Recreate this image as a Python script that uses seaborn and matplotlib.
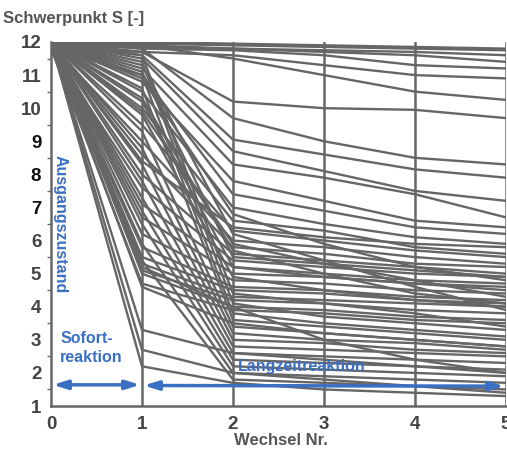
import numpy as np
import pandas as pd
import matplotlib
matplotlib.use("Agg")
import matplotlib.pyplot as plt
import seaborn as sns

wechsel = [0, 1, 2, 3, 4, 5]
x_ticks = [0, 1, 2, 3, 4, 5]
y_ticks = [1, 2, 3, 4, 5, 6, 7, 8, 9, 10, 11, 12]

high_group = [
    [12.0, 12.0, 11.95, 11.9, 11.85, 11.8],
    [12.0, 11.95, 11.9, 11.85, 11.8, 11.75],
    [12.0, 11.9, 11.8, 11.75, 11.7, 11.6],
    [11.9, 11.85, 11.8, 11.7, 11.6, 11.4],
    [12.0, 11.8, 11.75, 11.6, 11.3, 11.2],
    [11.8, 11.7, 11.6, 11.3, 11.0, 10.9],
    [12.0, 11.9, 11.5, 11.0, 10.5, 10.25],
    [12.0, 11.7, 10.2, 10.0, 9.95, 9.7],
    [12.0, 11.8, 9.7, 9.0, 8.5, 8.3],
    [11.9, 11.6, 9.05, 8.6, 8.15, 7.9],
    [12.0, 11.5, 8.7, 8.1, 7.5, 7.2],
    [12.0, 11.2, 8.3, 7.9, 7.4, 6.7],
    [12.0, 10.8, 7.8, 7.2, 6.6, 6.4],
    [11.8, 11.0, 7.4, 6.9, 6.4, 6.2],
    [12.0, 10.5, 7.0, 6.5, 6.1, 5.9],
]

mid_group = [
    [12.0, 10.0, 6.6, 6.3, 5.8, 5.6],
    [12.0, 9.5, 6.3, 6.0, 5.7, 5.5],
    [11.9, 9.0, 6.0, 5.8, 5.5, 5.3],
    [12.0, 8.6, 5.8, 5.6, 5.3, 5.2],
    [12.0, 8.0, 5.6, 5.4, 5.2, 5.0],
    [11.8, 7.6, 5.4, 5.2, 5.0, 4.9],
    [12.0, 7.1, 5.2, 5.0, 4.8, 4.7],
    [12.0, 6.7, 5.0, 4.9, 4.7, 4.5],
    [12.0, 6.2, 4.8, 4.7, 4.5, 4.4],
    [11.9, 5.8, 4.6, 4.5, 4.3, 4.2],
    [12.0, 5.5, 4.5, 4.4, 4.2, 4.1],
    [12.0, 5.3, 4.3, 4.2, 4.1, 4.0],
    [12.0, 5.1, 4.2, 4.1, 3.9, 3.8],
    [12.0, 5.0, 4.0, 3.9, 3.7, 3.6],
    [11.8, 4.7, 3.9, 3.8, 3.6, 3.5],
    [12.0, 10.9, 6.8, 5.9, 5.2, 4.8],
    [12.0, 9.9, 5.9, 5.3, 4.8, 4.3],
    [12.0, 11.3, 6.2, 5.4, 4.6, 3.9],
    [12.0, 11.1, 5.5, 5.3, 5.1, 4.9],
    [12.0, 10.3, 5.7, 5.0, 4.4, 4.1],
    [12.0, 8.4, 6.4, 6.1, 5.9, 5.8],
]

low_group = [
    [12.0, 11.6, 4.4, 4.1, 3.8, 3.4],
    [12.0, 11.4, 4.1, 3.7, 3.5, 3.3],
    [12.0, 11.0, 3.8, 3.5, 3.3, 3.1],
    [12.0, 10.6, 3.6, 3.4, 3.2, 3.0],
    [12.0, 10.2, 5.2, 4.9, 4.7, 4.6],
    [12.0, 9.8, 4.9, 4.5, 4.2, 4.0],
    [12.0, 9.3, 3.4, 3.2, 3.0, 2.8],
    [12.0, 8.8, 3.2, 3.0, 2.9, 2.7],
    [12.0, 8.3, 3.0, 2.9, 2.7, 2.6],
    [12.0, 7.8, 2.8, 2.7, 2.6, 2.5],
    [12.0, 7.3, 2.6, 2.5, 2.4, 2.3],
    [12.0, 6.9, 2.4, 2.3, 2.2, 2.1],
    [12.0, 6.5, 2.2, 2.1, 2.0, 1.9],
    [12.0, 5.9, 2.0, 1.9, 1.8, 1.7],
    [11.9, 5.4, 1.8, 1.7, 1.6, 1.5],
    [12.0, 4.6, 3.5, 3.2, 3.0, 2.8],
    [12.0, 3.3, 2.6, 2.4, 2.2, 2.0],
    [12.0, 2.7, 2.0, 1.8, 1.6, 1.4],
    [12.0, 2.2, 1.7, 1.5, 1.4, 1.3],
    [12.0, 5.2, 4.0, 3.0, 2.4, 2.0],
]

rows = []
for gi, grp in enumerate([high_group, mid_group, low_group]):
    for si, vals in enumerate(grp):
        for xv, yv in zip(wechsel, vals):
            rows.append({"unit": f"{gi}_{si}", "Wechsel": xv, "S": yv})
df = pd.DataFrame(rows)

sns.set_theme(style="white")
plt.rcParams["font.family"] = ["Liberation Sans", "DejaVu Sans"]

GRAY = "#666666"
BLUE = "#3b6fc2"

fig = plt.figure(figsize=(5.07, 4.54), dpi=100)
ax = fig.add_axes([0.1006, 0.1057, 0.8974, 0.8018])

for xv in [1, 2, 3, 4, 5]:
    ax.axvline(xv, color=GRAY, lw=1.8, zorder=1)

sns.lineplot(data=df, x="Wechsel", y="S", units="unit", estimator=None,
             color=GRAY, lw=1.7, ax=ax, legend=False, zorder=2)

ax.set_xlim(0, 5)
ax.set_ylim(1, 12)
ax.set_xticks(x_ticks)
ax.set_yticks(y_ticks)
ax.set_yticks(np.arange(1.5, 12, 1.0), minor=True)
ax.set_xticklabels([str(v) for v in x_ticks])
ax.set_yticklabels([str(v) for v in y_ticks])
ax.set_xlabel("")
ax.set_ylabel("")

for side in ["top", "right"]:
    ax.spines[side].set_visible(False)
for side in ["left", "bottom"]:
    ax.spines[side].set_color(GRAY)
    ax.spines[side].set_linewidth(1.8)

ax.tick_params(axis="both", which="major", direction="out", length=5, width=1.4,
               color=GRAY, labelsize=13.5, labelcolor="#444444", pad=2)
ax.tick_params(axis="y", which="minor", direction="out", length=3, width=1.0,
               color=GRAY, left=True)
for lbl in ax.get_yticklabels():
    if lbl.get_text() in ("7", "8", "9"):
        lbl.set_color("#111111")
    lbl.set_fontweight("bold")
for lbl in ax.get_xticklabels():
    lbl.set_fontweight("bold")

fig.text(0.006, 0.96, "Schwerpunkt S [-]", fontsize=12, color="#555555",
         fontweight="bold", ha="left", va="center")
fig.text(0.555, 0.03, "Wechsel Nr.", fontsize=12, color="#555555",
         fontweight="bold", ha="center", va="center")

ax.text(0.1, 6.5, "Ausgangszustand", rotation=270, color=BLUE, fontsize=11.5,
        fontweight="bold", ha="center", va="center", zorder=5)
ax.text(0.1, 2.75, "Sofort-\nreaktion", color=BLUE, fontsize=11.5,
        fontweight="bold", ha="left", va="center", linespacing=1.3, zorder=5)
ax.text(2.05, 2.2, "Langzeitreaktion", color=BLUE, fontsize=11.5,
        fontweight="bold", ha="left", va="center", zorder=5)

arrow_kw = dict(arrowstyle="<|-|>,head_length=0.7,head_width=0.22", color=BLUE, lw=2.5,
                shrinkA=0, shrinkB=0)
ax.annotate("", xy=(0.98, 1.64), xytext=(0.02, 1.64), arrowprops=arrow_kw,
            annotation_clip=False, zorder=6)
ax.annotate("", xy=(4.98, 1.6), xytext=(1.02, 1.62), arrowprops=arrow_kw,
            annotation_clip=False, zorder=6)

fig.savefig("out.png", dpi=100)
